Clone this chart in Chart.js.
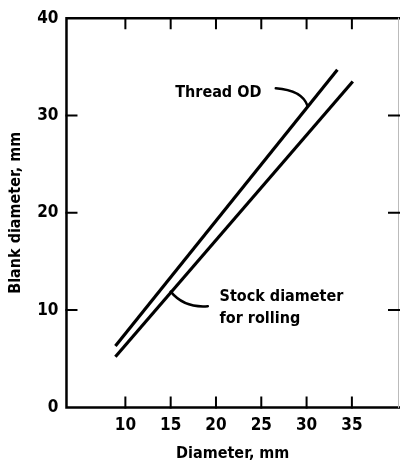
<!DOCTYPE html>
<html>
<head>
<meta charset="utf-8">
<script src="https://cdn.jsdelivr.net/npm/chart.js@4"></script>
<style>
  html, body { margin: 0; padding: 0; background: #fff; }
  #wrap { width: 400px; height: 467px; }
</style>
</head>
<body>
<div id="wrap"><canvas id="chart" width="400" height="467"></canvas></div>
<script>
// values
const threadX = [8.9, 33.4];
const threadY = [6.3, 34.7];
const stockX = [8.9, 35.1];
const stockY = [5.2, 33.5];

const xTicks = [10, 15, 20, 25, 30, 35];
const yTicks = [0, 10, 20, 30, 40];

const font = "'DejaVu Sans Condensed', 'DejaVu Sans', sans-serif";

function toPoints(xs, ys) {
  return xs.map((x, i) => ({ x: x, y: ys[i] }));
}

// frame, inward ticks and the two callouts
const framePlugin = {
  id: "frame",
  afterDraw(chart) {
    const ctx = chart.ctx;
    const a = chart.chartArea;
    const xs = chart.scales.x;
    const ys = chart.scales.y;
    ctx.save();
    ctx.strokeStyle = "#000";
    ctx.lineCap = "square";

    // left, bottom, top
    ctx.lineWidth = 2.5;
    ctx.beginPath();
    ctx.moveTo(a.left, a.top);
    ctx.lineTo(a.left, a.bottom);
    ctx.lineTo(a.right, a.bottom);
    ctx.moveTo(a.left, a.top);
    ctx.lineTo(a.right, a.top);
    ctx.stroke();

    // faint right edge
    ctx.strokeStyle = "#bbb";
    ctx.lineWidth = 1;
    ctx.beginPath();
    ctx.moveTo(a.right - 0.5, a.top);
    ctx.lineTo(a.right - 0.5, a.bottom);
    ctx.stroke();

    ctx.strokeStyle = "#000";
    ctx.lineWidth = 2;
    ctx.beginPath();
    xTicks.forEach(v => {
      const px = xs.getPixelForValue(v);
      ctx.moveTo(px, a.bottom);
      ctx.lineTo(px, a.bottom - 10);
      ctx.moveTo(px, a.top);
      ctx.lineTo(px, a.top + 10);
    });
    yTicks.slice(1, -1).forEach(v => {
      const py = ys.getPixelForValue(v);
      ctx.moveTo(a.left, py);
      ctx.lineTo(a.left + 10, py);
      ctx.moveTo(a.right, py);
      ctx.lineTo(a.right - 10, py);
    });
    ctx.stroke();

    // callout labels
    ctx.fillStyle = "#000";
    ctx.font = "bold 16px " + font;
    ctx.textBaseline = "middle";
    ctx.textAlign = "left";
    ctx.fillText("Thread OD", xs.getPixelForValue(15.5), ys.getPixelForValue(32.3));
    ctx.fillText("Stock diameter", xs.getPixelForValue(20.4), ys.getPixelForValue(11.4));
    ctx.fillText("for rolling", xs.getPixelForValue(20.4), ys.getPixelForValue(9.1));

    // leader lines
    ctx.lineWidth = 2.5;
    ctx.lineCap = "round";
    ctx.beginPath();
    ctx.moveTo(xs.getPixelForValue(26.6), ys.getPixelForValue(32.8));
    ctx.quadraticCurveTo(xs.getPixelForValue(29.5), ys.getPixelForValue(32.6),
      xs.getPixelForValue(30.1), ys.getPixelForValue(31.0));
    ctx.stroke();
    ctx.beginPath();
    ctx.moveTo(xs.getPixelForValue(15.0), ys.getPixelForValue(11.9));
    ctx.quadraticCurveTo(xs.getPixelForValue(16.5), ys.getPixelForValue(10.2),
      xs.getPixelForValue(19.1), ys.getPixelForValue(10.4));
    ctx.stroke();
    ctx.restore();
  }
};

new Chart(document.getElementById("chart"), {
  type: "scatter",
  data: {
    datasets: [
      {
        label: "Thread OD",
        data: toPoints(threadX, threadY),
        showLine: true,
        borderColor: "#000",
        borderWidth: 3.2,
        pointRadius: 0
      },
      {
        label: "Stock diameter for rolling",
        data: toPoints(stockX, stockY),
        showLine: true,
        borderColor: "#000",
        borderWidth: 3.2,
        pointRadius: 0
      }
    ]
  },
  options: {
    responsive: false,
    animation: false,
    layout: { padding: { top: 15, right: 1, bottom: 4, left: 6 } },
    plugins: {
      legend: { display: false },
      tooltip: { enabled: false }
    },
    scales: {
      x: {
        type: "linear",
        min: 3.5,
        max: 40.2,
        afterBuildTicks: scale => { scale.ticks = xTicks.map(v => ({ value: v })); },
        grid: { display: false, drawTicks: false },
        border: { display: false },
        ticks: {
          color: "#000",
          font: { family: font, size: 17, weight: "bold" },
          padding: 8,
          maxRotation: 0
        },
        title: {
          display: true,
          text: "Diameter, mm",
          color: "#000",
          font: { family: font, size: 16, weight: "bold" },
          padding: { top: 0, bottom: 0 }
        }
      },
      y: {
        type: "linear",
        min: 0,
        max: 40,
        afterBuildTicks: scale => { scale.ticks = yTicks.map(v => ({ value: v })); },
        grid: { display: false, drawTicks: false },
        border: { display: false },
        ticks: {
          color: "#000",
          font: { family: font, size: 17, weight: "bold" },
          padding: 8
        },
        title: {
          display: true,
          text: "Blank diameter, mm",
          color: "#000",
          font: { family: font, size: 16, weight: "bold" },
          padding: { top: 0, bottom: 4 }
        }
      }
    }
  },
  plugins: [framePlugin]
});
</script>
</body>
</html>
